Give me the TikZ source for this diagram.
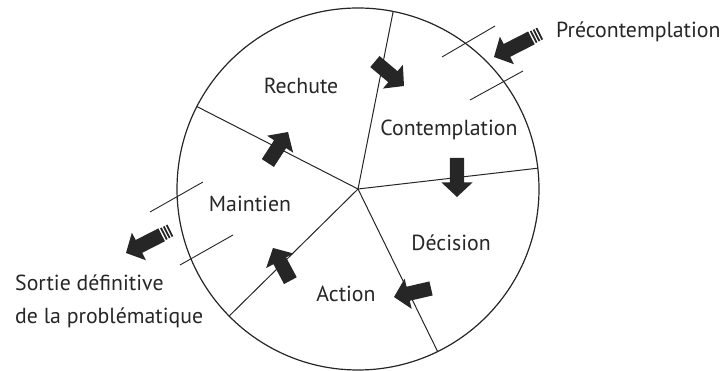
\documentclass[tikz,border=0pt]{standalone}
\usepackage{fontspec}
\setmainfont{PT Sans}
\begin{document}
\begin{tikzpicture}[x=1pt,y=1pt,
  lbl/.style={font=\fontsize{21.8}{26}\selectfont, inner sep=0pt, text=ink},
  rim/.style={line width=1.2pt, draw=ink},
  spoke/.style={line width=1pt, draw=ink},
  tickline/.style={line width=0.9pt, draw=ink},
  pics/blk/.style={code={\fill[ink] (0,0) -- (-14.5,15.5) -- (-14.5,7.2) -- (-#1,7.2) -- (-#1,-7.2) -- (-14.5,-7.2) -- (-14.5,-15.5) -- cycle;}},
  pics/stripes/.style={code={\foreach \d in {1.6,4.8,8.0}{\fill[ink] (-#1-\d,-6.5) rectangle (-#1-\d-1.8,6.5);}}},
]
\definecolor{ink}{HTML}{262626}
\useasboundingbox (0,0) rectangle (722,371);
\coordinate (hub) at (358,182);
\draw[rim] (hub) circle[radius=181];
% spokes
\path (hub) ++(78.8:181) coordinate (e1);
\path (hub) ++(6.6:181) coordinate (e2);
\path (hub) ++(-63.9:181) coordinate (e3);
\path (hub) ++(224.6:181) coordinate (e4);
\path (hub) ++(152.9:181) coordinate (e5);
\foreach \e in {e1,e2,e3,e4,e5}{\draw[spoke] (hub) -- (\e);}
% gate ticks
\coordinate (t1a) at (442,314); \coordinate (t1b) at (495,345);
\coordinate (t2a) at (470,271); \coordinate (t2b) at (523,300);
\coordinate (t3a) at (150,159); \coordinate (t3b) at (203,189);
\coordinate (t4a) at (180,106); \coordinate (t4b) at (233,136);
\draw[tickline] (t1a) -- (t1b);
\draw[tickline] (t2a) -- (t2b);
\draw[tickline] (t3a) -- (t3b);
\draw[tickline] (t4a) -- (t4b);
% block arrows
\pic[rotate=207] at (494,314) {blk=42};
\pic[rotate=207] at (494,314) {stripes=42};
\pic[rotate=-40] at (404,285) {blk=38};
\pic[rotate=-90] at (457,174) {blk=39};
\pic[rotate=193] at (394,74) {blk=38};
\pic[rotate=118] at (273,123) {blk=37};
\pic[rotate=57] at (288,239) {blk=37};
\pic[rotate=207] at (126,118) {blk=40};
\pic[rotate=207] at (126,118) {stripes=40};
% labels
\node[lbl, anchor=base] (rechute) at (301,277) {Rechute};
\node[lbl, anchor=base] (contemplation) at (449,235) {Contemplation};
\node[lbl, anchor=base] (decision) at (451,120) {Décision};
\node[lbl, anchor=base] (action) at (346,69) {Action};
\node[lbl, anchor=base] (maintien) at (250,159) {Maintien};
\node[lbl, anchor=base west] (precontemplation) at (556,333) {Précontemplation};
\node[lbl, anchor=base west] (sortie1) at (15,80) {Sortie définitive};
\node[lbl, anchor=base west] (sortie2) at (15,47) {de la problématique};
\end{tikzpicture}
\end{document}
